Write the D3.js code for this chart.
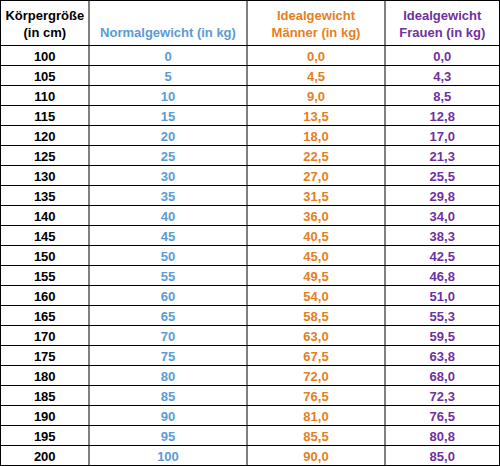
<!DOCTYPE html>
<html><head><meta charset="utf-8">
<script src="https://cdn.jsdelivr.net/npm/d3@7"></script>
<style>body{margin:0;background:#fff}text{font-family:"Liberation Sans",Arial,sans-serif;font-weight:bold;font-size:13px}</style>
</head><body>
<svg id="t" width="500" height="466"></svg>
<script>
const heights = [100,105,110,115,120,125,130,135,140,145,150,155,160,165,170,175,180,185,190,195,200];
const normal = [0,5,10,15,20,25,30,35,40,45,50,55,60,65,70,75,80,85,90,95,100];
const men = ["0,0","4,5","9,0","13,5","18,0","22,5","27,0","31,5","36,0","40,5","45,0","49,5","54,0","58,5","63,0","67,5","72,0","76,5","81,0","85,5","90,0"];
const women = ["0,0","4,3","8,5","12,8","17,0","21,3","25,5","29,8","34,0","38,3","42,5","46,8","51,0","55,3","59,5","63,8","68,0","72,3","76,5","80,8","85,0"];
const headers = [["Körpergröße","(in cm)"],["Normalgewicht (in kg)"],["Idealgewicht","Männer (in kg)"],["Idealgewicht","Frauen (in kg)"]];
const colors = ["#000","#5b9bd5","#e67e22","#7030a0"];
const colX = [0.5,89,247,385,499.5];
const headH = 45.5;

const svg = d3.select("#t");
const y = d3.scaleBand().domain(d3.range(heights.length)).range([headH,465.5]);

// header
headers.forEach((h,i)=>{
  const cx=(colX[i]+colX[i+1])/2;
  h.forEach((line,j)=>{
    svg.append("text").attr("x",cx).attr("y", h.length==2 ? 20+j*17 : 37)
      .attr("text-anchor","middle").attr("fill",colors[i]).text(line);
  });
});

const cols=[heights,normal,men,women];
heights.forEach((_,r)=>{
  cols.forEach((c,i)=>{
    svg.append("text").attr("x",(colX[i]+colX[i+1])/2).attr("y",y(r)+y.bandwidth()/2+5)
      .attr("text-anchor","middle").attr("fill",colors[i]).text(c[r]);
  });
});

// grid
const g=svg.append("g").attr("stroke","#000").attr("stroke-width",1);
[0.5,headH].concat(heights.map((_,r)=>y(r)+y.bandwidth())).forEach(v=>{
  g.append("line").attr("x1",0).attr("x2",500).attr("y1",v).attr("y2",v);
});
colX.forEach(v=>g.append("line").attr("x1",v).attr("x2",v).attr("y1",0).attr("y2",466));
</script>
</body></html>
